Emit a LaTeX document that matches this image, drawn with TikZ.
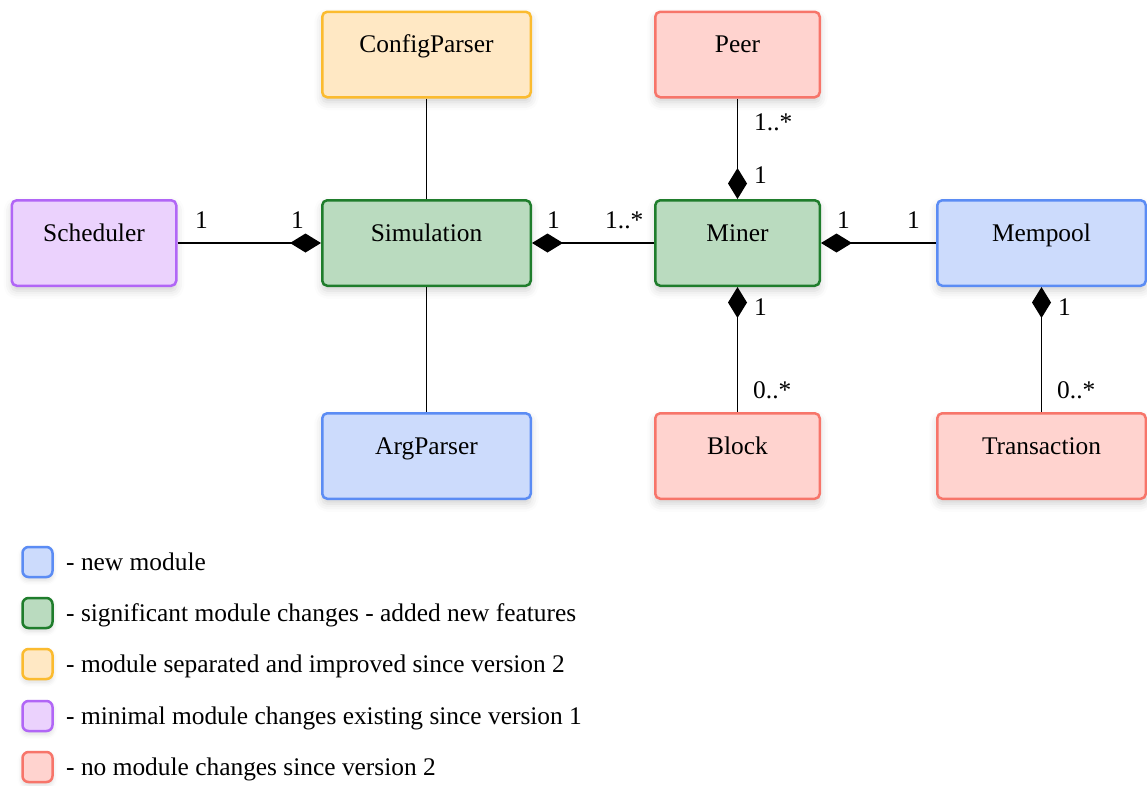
\documentclass[tikz,border=0pt]{standalone}
\usepackage{fontspec}
\setmainfont{LiberationSerif}[Extension=.ttf, UprightFont=*-Regular,
  BoldFont=*-Bold, ItalicFont=*-Italic, BoldItalicFont=*-BoldItalic]
\usetikzlibrary{arrows.meta,shadows.blur}

\definecolor{bluefill}{HTML}{CCDBFC}
\definecolor{blueline}{HTML}{5B8CF4}
\definecolor{greenfill}{HTML}{BADBBF}
\definecolor{greenline}{HTML}{1F7D2C}
\definecolor{orangefill}{HTML}{FFE8C4}
\definecolor{orangeline}{HTML}{FBBB2F}
\definecolor{purplefill}{HTML}{EBD2FD}
\definecolor{purpleline}{HTML}{B166F6}
\definecolor{redfill}{HTML}{FFD3CF}
\definecolor{redline}{HTML}{F7756A}

\tikzset{
  comp/.tip={Diamond[length=31pt, width=19pt]},
  module/.style={draw, line width=2.5pt, rounded corners=5pt,
    text height=10pt, text depth=14pt, inner sep=0pt,
    blur shadow={shadow xshift=0pt, shadow yshift=-5pt,
      shadow blur radius=8pt, shadow opacity=18}},
  wide/.style={module, minimum width=208.5pt, minimum height=85.5pt},
  narrow/.style={module, minimum width=164.5pt, minimum height=85.5pt},
  newmod/.style={fill=bluefill, draw=blueline},
  changed/.style={fill=greenfill, draw=greenline},
  separated/.style={fill=orangefill, draw=orangeline},
  minimal/.style={fill=purplefill, draw=purpleline},
  unchanged/.style={fill=redfill, draw=redline},
  assoc/.style={draw, line width=1.6pt},
  mult/.style={anchor=base west, inner sep=0pt},
  keybox/.style={draw, line width=2.5pt, rounded corners=6pt,
    minimum width=30pt, minimum height=30pt, inner sep=0pt,
    blur shadow={shadow xshift=0pt, shadow yshift=-3pt,
      shadow blur radius=5pt, shadow opacity=15}},
  keytext/.style={anchor=base west, inner sep=0pt},
}

\begin{document}
\begin{tikzpicture}[x=1pt, y=-1pt, font=\rmfamily\fontsize{25.4}{30}\selectfont]
\useasboundingbox (0,0) rectangle (1147,785);

% modules
\node[wide, separated] (config) at (426.5, 54.5) {ConfigParser};
\node[narrow, unchanged] (peer) at (737.5, 54.5) {Peer};
\node[narrow, minimal] (sched) at (94, 243) {Scheduler};
\node[wide, changed] (sim) at (426.5, 243) {Simulation};
\node[narrow, changed] (miner) at (737.5, 243) {Miner};
\node[wide, newmod] (mempool) at (1041.5, 243) {Mempool};
\node[wide, newmod] (arg) at (426.5, 456) {ArgParser};
\node[narrow, unchanged] (block) at (737.5, 456) {Block};
\node[wide, unchanged] (tx) at (1041.5, 456) {Transaction};

% relations
\draw[assoc] (config.south) -- (sim.north);
\draw[assoc] (sim.south) -- (arg.north);
\draw[assoc, -comp] (sched.east) -- (sim.west);
\draw[assoc, comp-] (sim.east) -- (miner.west);
\draw[assoc, comp-] (miner.east) -- (mempool.west);
\draw[assoc, -comp] (peer.south) -- (miner.north);
\draw[assoc, comp-] (miner.south) -- (block.north);
\draw[assoc, comp-] (mempool.south) -- (tx.north);

% multiplicities
\node[mult] (m1) at (195, 228) {1};
\node[mult] (m2) at (291, 228) {1};
\node[mult] (m3) at (547, 228) {1};
\node[mult] (m4) at (605, 228) {1..*};
\node[mult] (m5) at (837, 228) {1};
\node[mult] (m6) at (907, 228) {1};
\node[mult] (m7) at (754, 130) {1..*};
\node[mult] (m8) at (754, 183) {1};
\node[mult] (m9) at (754, 315) {1};
\node[mult] (m10) at (753, 398) {0..*};
\node[mult] (m11) at (1058, 315) {1};
\node[mult] (m12) at (1057, 398) {0..*};

% legend
\node[keybox, newmod] (k1) at (37.5, 562) {};
\node[keytext] (t1) at (66, 570) {- new module};
\node[keybox, changed] (k2) at (37.5, 613) {};
\node[keytext] (t2) at (66, 621) {- significant module changes - added new features};
\node[keybox, separated] (k3) at (37.5, 664) {};
\node[keytext] (t3) at (66, 672) {- module separated and improved since version 2};
\node[keybox, minimal] (k4) at (37.5, 716) {};
\node[keytext] (t4) at (66, 724) {- minimal module changes existing since version 1};
\node[keybox, unchanged] (k5) at (37.5, 767) {};
\node[keytext] (t5) at (66, 775) {- no module changes since version 2};
\end{tikzpicture}
\end{document}
